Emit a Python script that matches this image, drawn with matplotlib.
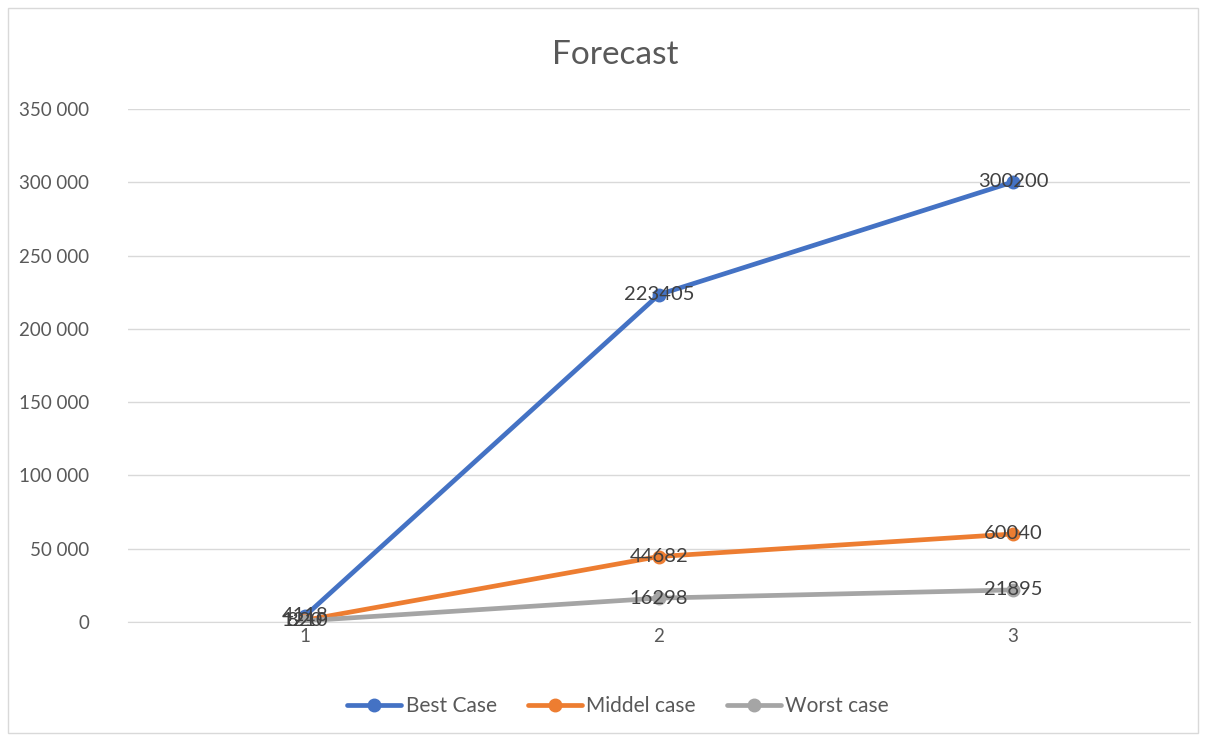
import matplotlib.pyplot as plt
from matplotlib.ticker import FuncFormatter
from matplotlib.patches import Rectangle

# Forecast scenarios per period
periods = [1, 2, 3]
best_case = [4118, 223405, 300200]
middel_case = [1210, 44682, 60040]
worst_case = [820, 16298, 21895]

series = [
    ("Best Case", best_case, "#4472C4"),
    ("Middel case", middel_case, "#ED7D31"),
    ("Worst case", worst_case, "#A5A5A5"),
]

plt.rcParams['font.family'] = ['Lato', 'DejaVu Sans']

fig = plt.figure(figsize=(12.06, 7.38), dpi=100)
ax = fig.add_axes([128 / 1206, 1 - 622 / 738, (1190 - 128) / 1206, (622 - 109) / 738])

for name, vals, col in series:
    ax.plot(periods, vals, color=col, lw=3.4, marker='o', markersize=9,
            solid_capstyle='round', label=name, zorder=3)
    for x, v in zip(periods, vals):
        ax.text(x, v, str(v), ha='center', va='center', fontsize=14.5,
                color='#404040', zorder=4)

ax.set_xlim(0.5, 3.5)
ax.set_ylim(0, 350000)
ax.set_xticks(periods)
ax.set_yticks(range(0, 350001, 50000))
ax.yaxis.set_major_formatter(FuncFormatter(lambda v, p: f"{int(v):,}".replace(",", " ")))
ax.grid(axis='y', color='#D9D9D9', lw=1)
ax.set_axisbelow(True)
for s in ['top', 'right', 'left']:
    ax.spines[s].set_visible(False)
ax.spines['bottom'].set_color('#D9D9D9')
ax.tick_params(length=0, labelsize=13.5, labelcolor='#595959')
ax.tick_params(axis='y', pad=28)
ax.tick_params(axis='x', pad=4)

fig.text(615 / 1206, 1 - 55 / 738, "Forecast", ha='center', va='center', fontsize=24, color='#595959')

fig.legend(loc='center', bbox_to_anchor=(618 / 1206, 1 - 706 / 738), ncol=3, frameon=False,
           fontsize=15, labelcolor='#595959', handlelength=2.6, columnspacing=1.5,
           handletextpad=0.2)

# outer chart border
fig.patches.append(Rectangle((8 / 1206, 5 / 738), 1190 / 1206, 725 / 738,
                             transform=fig.transFigure, fill=False,
                             edgecolor='#D9D9D9', lw=1))

fig.savefig("out.png", dpi=100)
